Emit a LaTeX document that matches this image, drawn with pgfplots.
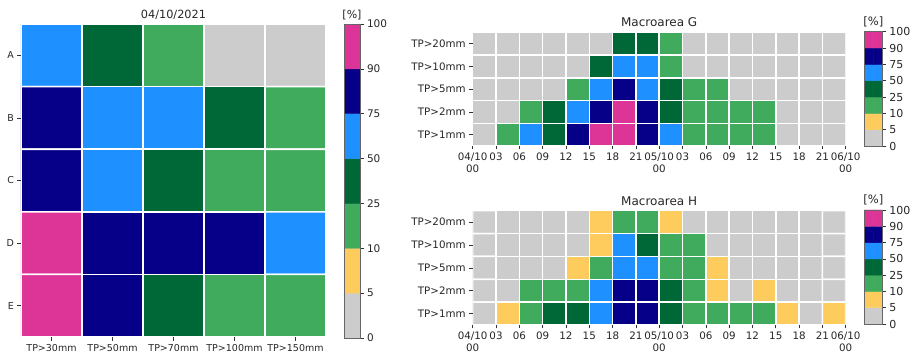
\documentclass[border=0pt]{standalone}
\usepackage{pgfplots}
\pgfplotsset{compat=1.18}
\usepackage{pgfplotstable}
\usepackage{fontspec}
\setmainfont{DejaVu Sans}

\pgfplotsset{
  every axis title shift=0pt,
  colormap={classes}{rgb255=(204,204,204) rgb255=(254,204,92) rgb255=(65,171,93) rgb255=(0,104,55) rgb255=(30,144,255) rgb255=(6,0,136) rgb255=(221,52,151)},
  heatbase/.style={
    scale only axis,
    colormap name=classes, colormap access=direct,
    point meta min=0, point meta max=6,
    tick align=outside, tick pos=left, major tick length=3.5pt,
    tick style={black!80, line width=0.6pt},
    axis line style={draw=none},
    ticklabel style={text=black!85},
  },
  cbar/.style={
    scale only axis, axis on top,
    colormap name=classes, colormap access=direct,
    point meta min=0, point meta max=6,
    xmin=-0.5, xmax=1.5, ymin=-0.5, ymax=6.5,
    xtick=\empty,
    ytick={-0.5,0.5,1.5,2.5,3.5,4.5,5.5,6.5},
    yticklabels={0,5,10,25,50,75,90,100},
    ytick pos=right, yticklabel pos=right,
    tick align=outside, major tick length=3.5pt,
    tick style={black!80, line width=0.6pt},
    axis line style={draw=black!60, line width=0.8pt},
    ticklabel style={text=black!85},
    title={[\%]},
    title style={at={(0.5,1)}, anchor=base, yshift=6pt, text=black!85},
  },
}

\pgfplotstableread[row sep=\\]{
x y c\\
0 0 4\\ 1 0 3\\ 2 0 2\\ 3 0 0\\ 4 0 0\\
0 1 5\\ 1 1 4\\ 2 1 4\\ 3 1 3\\ 4 1 2\\
0 2 5\\ 1 2 4\\ 2 2 3\\ 3 2 2\\ 4 2 2\\
0 3 6\\ 1 3 5\\ 2 3 5\\ 3 3 5\\ 4 3 4\\
0 4 6\\ 1 4 5\\ 2 4 3\\ 3 4 2\\ 4 4 2\\
}\tableDay

\pgfplotstableread[row sep=\\]{
x y c\\
0 0 0\\ 1 0 0\\ 2 0 0\\ 3 0 0\\ 4 0 0\\ 5 0 0\\ 6 0 3\\ 7 0 3\\ 8 0 2\\ 9 0 0\\ 10 0 0\\ 11 0 0\\ 12 0 0\\ 13 0 0\\ 14 0 0\\ 15 0 0\\
0 1 0\\ 1 1 0\\ 2 1 0\\ 3 1 0\\ 4 1 0\\ 5 1 3\\ 6 1 4\\ 7 1 4\\ 8 1 2\\ 9 1 0\\ 10 1 0\\ 11 1 0\\ 12 1 0\\ 13 1 0\\ 14 1 0\\ 15 1 0\\
0 2 0\\ 1 2 0\\ 2 2 0\\ 3 2 0\\ 4 2 2\\ 5 2 4\\ 6 2 5\\ 7 2 4\\ 8 2 3\\ 9 2 2\\ 10 2 2\\ 11 2 0\\ 12 2 0\\ 13 2 0\\ 14 2 0\\ 15 2 0\\
0 3 0\\ 1 3 0\\ 2 3 2\\ 3 3 3\\ 4 3 4\\ 5 3 5\\ 6 3 6\\ 7 3 5\\ 8 3 3\\ 9 3 2\\ 10 3 2\\ 11 3 2\\ 12 3 2\\ 13 3 0\\ 14 3 0\\ 15 3 0\\
0 4 0\\ 1 4 2\\ 2 4 4\\ 3 4 3\\ 4 4 5\\ 5 4 6\\ 6 4 6\\ 7 4 5\\ 8 4 4\\ 9 4 2\\ 10 4 2\\ 11 4 2\\ 12 4 2\\ 13 4 0\\ 14 4 0\\ 15 4 0\\
}\tableG

\pgfplotstableread[row sep=\\]{
x y c\\
0 0 0\\ 1 0 0\\ 2 0 0\\ 3 0 0\\ 4 0 0\\ 5 0 1\\ 6 0 2\\ 7 0 2\\ 8 0 1\\ 9 0 0\\ 10 0 0\\ 11 0 0\\ 12 0 0\\ 13 0 0\\ 14 0 0\\ 15 0 0\\
0 1 0\\ 1 1 0\\ 2 1 0\\ 3 1 0\\ 4 1 0\\ 5 1 1\\ 6 1 4\\ 7 1 3\\ 8 1 2\\ 9 1 2\\ 10 1 0\\ 11 1 0\\ 12 1 0\\ 13 1 0\\ 14 1 0\\ 15 1 0\\
0 2 0\\ 1 2 0\\ 2 2 0\\ 3 2 0\\ 4 2 1\\ 5 2 2\\ 6 2 4\\ 7 2 4\\ 8 2 2\\ 9 2 2\\ 10 2 1\\ 11 2 0\\ 12 2 0\\ 13 2 0\\ 14 2 0\\ 15 2 0\\
0 3 0\\ 1 3 0\\ 2 3 2\\ 3 3 2\\ 4 3 2\\ 5 3 4\\ 6 3 5\\ 7 3 5\\ 8 3 3\\ 9 3 2\\ 10 3 1\\ 11 3 0\\ 12 3 1\\ 13 3 0\\ 14 3 0\\ 15 3 0\\
0 4 0\\ 1 4 1\\ 2 4 2\\ 3 4 3\\ 4 4 3\\ 5 4 4\\ 6 4 5\\ 7 4 5\\ 8 4 3\\ 9 4 2\\ 10 4 2\\ 11 4 2\\ 12 4 2\\ 13 4 1\\ 14 4 0\\ 15 4 1\\
}\tableH

\pgfplotstableread[row sep=\\]{
x y c\\
0 0 0\\ 1 0 0\\
0 1 1\\ 1 1 1\\
0 2 2\\ 1 2 2\\
0 3 3\\ 1 3 3\\
0 4 4\\ 1 4 4\\
0 5 5\\ 1 5 5\\
0 6 6\\ 1 6 6\\
}\tableBar

\begin{document}
\begin{tikzpicture}
\path[use as bounding box] (0,0) rectangle (919pt,356pt);

% ---------- left heatmap ----------
\begin{axis}[heatbase,
  at={(21pt,19pt)}, anchor=south west, width=305pt, height=313pt,
  xmin=-0.5, xmax=4.5, ymin=-0.5, ymax=4.5, y dir=reverse,
  xtick={0,1,2,3,4}, xticklabels={TP>30mm,TP>50mm,TP>70mm,TP>100mm,TP>150mm},
  ytick={0,1,2,3,4}, yticklabels={A,B,C,D,E},
  ticklabel style={font=\fontsize{9.5}{11}\selectfont},
  title={04/10/2021},
  title style={at={(0.5,1)}, anchor=base, yshift=6pt, font=\fontsize{11.3}{13}\selectfont, text=black!85},
]
\addplot[matrix plot, shader=faceted, faceted color=white, line width=1.6pt, mesh/cols=5, point meta=explicit]
  table[x=x, y=y, meta=c] {\tableDay};
\end{axis}

\begin{axis}[cbar, at={(344pt,18pt)}, anchor=south west, width=16pt, height=314pt,
  ticklabel style={font=\fontsize{10.5}{12}\selectfont},
  title style={font=\fontsize{11}{13}\selectfont}]
\addplot[matrix plot*, mesh/cols=2, point meta=explicit] table[x=x, y=y, meta=c] {\tableBar};
\end{axis}

% ---------- Macroarea G ----------
\begin{axis}[heatbase,
  at={(472.7pt,210pt)}, anchor=south west, width=373pt, height=113.7pt,
  xmin=-0.5, xmax=15.5, ymin=-0.5, ymax=4.5, y dir=reverse,
  xtick={-0.5,0.5,1.5,2.5,3.5,4.5,5.5,6.5,7.5,8.5,9.5,10.5,11.5,12.5,13.5,14.5,15.5},
  xticklabels={{04/10\\00},03,06,09,12,15,18,21,{05/10\\00},03,06,09,12,15,18,21,{06/10\\00}},
  xticklabel style={align=center},
  ytick={0,1,2,3,4}, yticklabels={TP>20mm,TP>10mm,TP>5mm,TP>2mm,TP>1mm},
  ticklabel style={font=\fontsize{10.3}{12}\selectfont},
  title={Macroarea G},
  title style={at={(0.5,1)}, anchor=base, yshift=5.7pt, font=\fontsize{12}{14}\selectfont, text=black!85},
]
\addplot[matrix plot, shader=faceted, faceted color=white, line width=1.5pt, mesh/cols=16, point meta=explicit]
  table[x=x, y=y, meta=c] {\tableG};
\end{axis}

\begin{axis}[cbar, at={(864.3pt,210pt)}, anchor=south west, width=18pt, height=114.3pt,
  ticklabel style={font=\fontsize{11}{12}\selectfont},
  title style={font=\fontsize{11.5}{13}\selectfont}]
\addplot[matrix plot*, mesh/cols=2, point meta=explicit] table[x=x, y=y, meta=c] {\tableBar};
\end{axis}

% ---------- Macroarea H ----------
\begin{axis}[heatbase,
  at={(472.7pt,31pt)}, anchor=south west, width=373pt, height=114.3pt,
  xmin=-0.5, xmax=15.5, ymin=-0.5, ymax=4.5, y dir=reverse,
  xtick={-0.5,0.5,1.5,2.5,3.5,4.5,5.5,6.5,7.5,8.5,9.5,10.5,11.5,12.5,13.5,14.5,15.5},
  xticklabels={{04/10\\00},03,06,09,12,15,18,21,{05/10\\00},03,06,09,12,15,18,21,{06/10\\00}},
  xticklabel style={align=center},
  ytick={0,1,2,3,4}, yticklabels={TP>20mm,TP>10mm,TP>5mm,TP>2mm,TP>1mm},
  ticklabel style={font=\fontsize{10.3}{12}\selectfont},
  title={Macroarea H},
  title style={at={(0.5,1)}, anchor=base, yshift=5.7pt, font=\fontsize{12}{14}\selectfont, text=black!85},
]
\addplot[matrix plot, shader=faceted, faceted color=white, line width=1.5pt, mesh/cols=16, point meta=explicit]
  table[x=x, y=y, meta=c] {\tableH};
\end{axis}

\begin{axis}[cbar, at={(864.3pt,32pt)}, anchor=south west, width=18pt, height=114pt,
  ticklabel style={font=\fontsize{11}{12}\selectfont},
  title style={font=\fontsize{11.5}{13}\selectfont}]
\addplot[matrix plot*, mesh/cols=2, point meta=explicit] table[x=x, y=y, meta=c] {\tableBar};
\end{axis}

\end{tikzpicture}
\end{document}
